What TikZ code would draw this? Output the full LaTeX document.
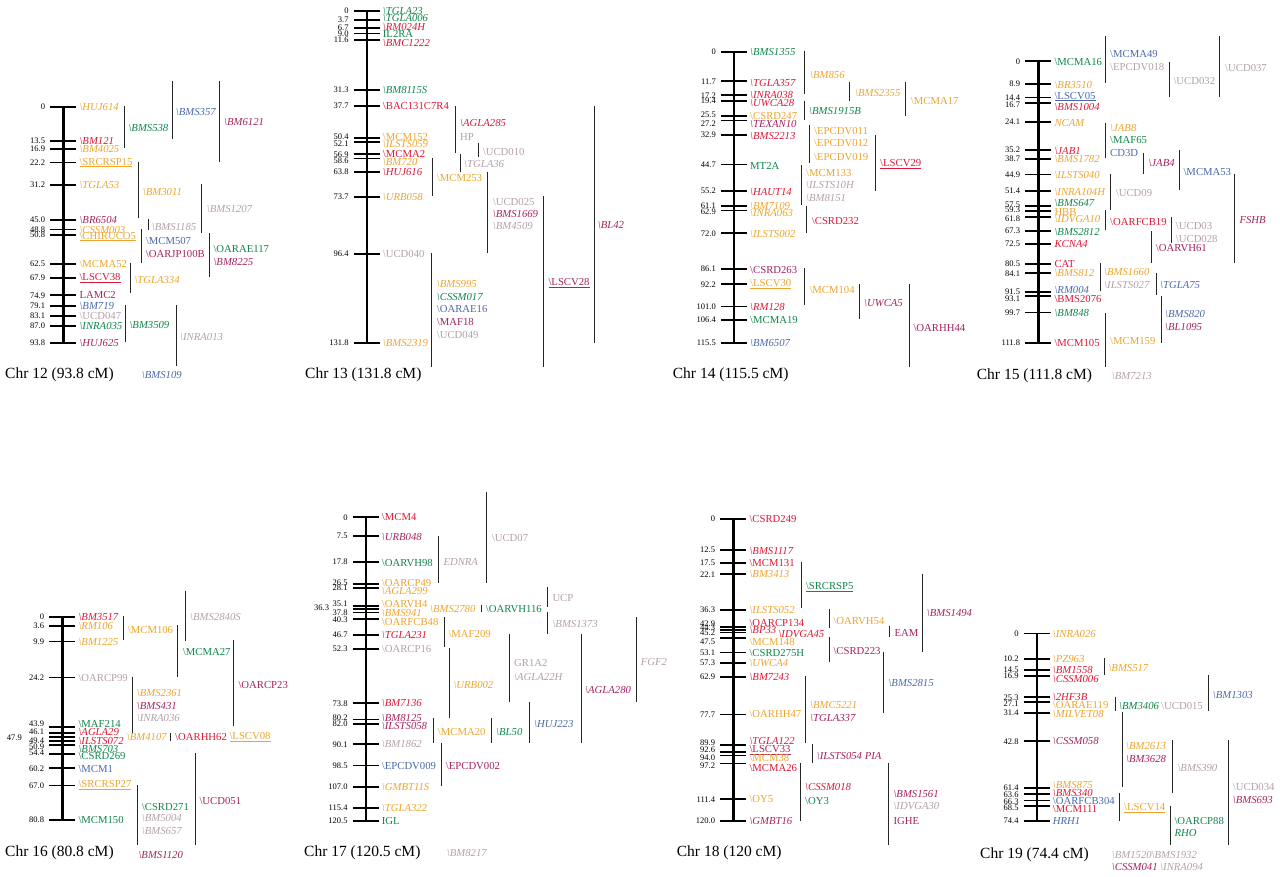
\documentclass[tikz,border=0pt]{standalone}
\usepackage{fontspec}
\setmainfont{Liberation Serif}
\definecolor{mkorange}{RGB}{238,165,45}
\definecolor{mkred}{RGB}{220,25,55}
\definecolor{mkgreen}{RGB}{15,135,75}
\definecolor{mkblue}{RGB}{75,105,170}
\definecolor{mkpurple}{RGB}{165,35,95}
\definecolor{mkgray}{RGB}{180,160,170}
\newcommand\bsl{\textbackslash}
\newcommand\lbl{\fontsize{10.7}{12}\selectfont}
% one chromosome: name, axis x, y of 0 cM, length, list p/dn/dl/dx/style/text
\newcommand\chrom[5]{%
  \draw[chrline] (#2,#3) -- (#2,{#3+2.52*#4});
  \foreach \p/\dn/\dl/\dx/\st/\t [count=\i] in {#5}{
    \draw[cmtick] ({#2-13},{#3+2.52*\p}) -- ({#2+13},{#3+2.52*\p});
    \node[cmnum] (#1n\i) at ({#2-18},{#3+2.52*\p+\dn}) {\p};
    \node[lab,\st] (#1m\i) at ({#2+\dx},{#3+2.52*\p+\dl}) {\t};
  }}

\begin{document}
\begin{tikzpicture}[
  x=1pt, y=-1pt,
  chrline/.style={line width=2.4pt},
  cmtick/.style={line width=1.8pt},
  ivbar/.style={line width=0.9pt, black!85},
  cmnum/.style={anchor=east, inner sep=0pt, font=\fontsize{8.5}{9}\selectfont},
  lab/.style={anchor=west, inner sep=0pt, font=\lbl},
  chrtitle/.style={anchor=west, inner sep=0pt, font=\fontsize{15.5}{17}\selectfont},
  OrI/.style={text=mkorange, font=\lbl\itshape}, OrU/.style={text=mkorange},
  RdI/.style={text=mkred, font=\lbl\itshape}, RdU/.style={text=mkred},
  GnI/.style={text=mkgreen, font=\lbl\itshape}, GnU/.style={text=mkgreen},
  BlI/.style={text=mkblue, font=\lbl\itshape}, BlU/.style={text=mkblue},
  PuI/.style={text=mkpurple, font=\lbl\itshape}, PuU/.style={text=mkpurple},
  GyI/.style={text=mkgray, font=\lbl\itshape}, GyU/.style={text=mkgray}
]
  \path[use as bounding box, fill=white] (0,0) rectangle (1280,876);

  %% Chr 12
  \chrom{c12}{63.3}{106.6}{93.8}{
    0/0/0/16/OrI/{\bsl HUJ614}, 13.5/0/0/16/RdI/{\bsl BM121},
    16.9/0/0/16/OrI/{\bsl BM4025}, 22.2/0/0/16/OrU/{\underline{\bsl SRCRSP15}},
    31.2/0/0/16/OrI/{\bsl TGLA53}, 45.0/0/0/16/PuI/{\bsl BR6504},
    48.8/0/0/16/OrI/{\bsl CSSM003}, 50.8/0/2/16/OrU/{\underline{\bsl CHIRUCO5}},
    62.5/0/0/16/OrU/{\bsl MCMA52}, 67.9/0/0/16/RdU/{\underline{\bsl LSCV38}},
    74.9/0/0/16/PuU/{LAMC2}, 79.1/0/0/16/BlI/{\bsl BM719},
    83.1/0/0/16/GyU/{\bsl UCD047}, 87.0/0/0/16/GnI/{\bsl INRA035},
    93.8/0/0/16/PuI/{\bsl HUJ625}}
  \foreach \bx/\ya/\yb in {124/106/148.3, 172/80.7/139.3, 219.3/80.7/161.7,
    138.7/161.7/218.3, 201.3/184.3/233.3, 148.3/219/230, 141.3/229/262.7,
    209.3/233.3/276.7, 130.7/262.7/293.3, 125.7/305/341.7, 176/305/366}
    \draw[ivbar] (\bx,\ya) -- (\bx,\yb);
  \node[lab,GnI] (bms538) at (128.3,128.3) {\bsl BMS538};
  \node[lab,BlI] (bms357) at (175.7,111.7) {\bsl BMS357};
  \node[lab,PuI] (bm6121) at (224,122.3) {\bsl BM6121};
  \node[lab,OrI] (bm3011) at (142.7,191.7) {\bsl BM3011};
  \node[lab,GyI] (bms1207) at (206.7,209.3) {\bsl BMS1207};
  \node[lab,GyI] (bms1185) at (151.7,226.7) {\bsl BMS1185};
  \node[lab,BlU] (mcm507) at (145.7,241) {\bsl MCM507};
  \node[lab,PuU] (oarjp100b) at (145.7,254) {\bsl OARJP100B};
  \node[lab,GnU] (oarae117) at (213.3,249) {\bsl OARAE117};
  \node[lab,PuI] (bm8225) at (213.3,261.7) {\bsl BM8225};
  \node[lab,OrI] (tgla334) at (134.3,280) {\bsl TGLA334};
  \node[lab,GnI] (bm3509) at (129.3,325) {\bsl BM3509};
  \node[lab,GyI] (inra013) at (180,336.7) {\bsl INRA013};
  \node[lab,BlI] (bms109) at (141.7,375) {\bsl BMS109};
  \node[chrtitle] (t12) at (5,375) {Chr 12 (93.8 cM)};

  %% Chr 13
  \chrom{c13}{366.7}{10.9}{131.8}{
    0/0/0/16/GnI/{\bsl TGLA23}, 3.7/0/-2/16/GnI/{\bsl TGLA006},
    6.7/0/-1/16/RdI/{\bsl RM024H}, 9.0/0/0.7/16/GnU/{IL2RA},
    11.6/0/2.6/16/RdI/{\bsl BMC1222}, 31.3/0/0/16/GnI/{\bsl BM8115S},
    37.7/0/0/16/RdU/{\bsl BAC131C7R4}, 50.4/-1.3/-1.3/16/OrU/{\bsl MCM152},
    52.1/1.8/2/16/OrI/{\bsl ILSTS059}, 56.9/0/0/16/RdU/{\bsl MCMA2},
    58.6/2/3.7/16/OrI/{\bsl BM720}, 63.8/0/0/16/RdI/{\bsl HUJ616},
    73.7/0/0/16/OrI/{\bsl URB058}, 96.4/0/0/16/GyU/{\bsl UCD040},
    131.8/0/0/16/OrI/{\bsl BMS2319}}
  \foreach \bx/\ya/\yb in {455/106/153.3, 478.3/142.7/157.3, 460.3/154/171.7,
    432.3/158.3/196, 487.7/171.7/252.7, 543.3/196/366.7, 594.3/106/342.7,
    431.7/253.3/366.7}
    \draw[ivbar] (\bx,\ya) -- (\bx,\yb);
  \node[lab,RdI] (agla285) at (460,123.3) {\bsl AGLA285};
  \node[lab,GyU] (hp) at (460,136.7) {HP};
  \node[lab,GyU] (ucd010) at (482.7,151.7) {\bsl UCD010};
  \node[lab,GyI] (tgla36) at (464,164) {\bsl TGLA36};
  \node[lab,OrU] (mcm253) at (436.7,178.3) {\bsl MCM253};
  \node[lab,GyU] (ucd025) at (492.7,201.7) {\bsl UCD025};
  \node[lab,PuI] (bms1669) at (492.7,214) {\bsl BMS1669};
  \node[lab,GyI] (bm4509) at (492.7,226) {\bsl BM4509};
  \node[lab,PuU] (lscv28) at (548.3,283.3) {\underline{\bsl LSCV28}};
  \node[lab,PuI] (bl42) at (597.7,225) {\bsl BL42};
  \node[lab,OrI] (bms995) at (436.7,284) {\bsl BMS995};
  \node[lab,GnI] (cssm017) at (436.7,296.7) {\bsl CSSM017};
  \node[lab,BlU] (oarae16) at (436.7,309.3) {\bsl OARAE16};
  \node[lab,PuU] (maf18) at (436.7,322) {\bsl MAF18};
  \node[lab,GyU] (ucd049) at (436.7,334.7) {\bsl UCD049};
  \node[chrtitle] (t13) at (305,375) {Chr 13 (131.8 cM)};

  %% Chr 14
  \chrom{c14}{734}{51.9}{115.5}{
    0/0/0/16/GnI/{\bsl BMS1355}, 11.7/0/1.3/16/RdI/{\bsl TGLA357},
    17.2/0/0/16/RdI/{\bsl INRA038}, 19.4/0/2/16/RdI/{\bsl UWCA28},
    25.5/-1/0/16/OrU/{\bsl CSRD247}, 27.2/3.6/3.6/16/PuI/{\bsl TEXAN10},
    32.9/0/1.2/16/RdI/{\bsl BMS2213}, 44.7/0/1.5/16/GnU/{MT2A},
    55.2/0/1.3/16/RdI/{\bsl HAUT14}, 61.1/0/0/16/OrI/{\bsl BM7109},
    62.9/1.3/3/16/OrI/{\bsl INRA063}, 72.0/0/0.7/16/OrI/{\bsl ILSTS002},
    86.1/0/1/16/PuU/{\bsl CSRD263}, 92.2/0/0/16/OrU/{\underline{\bsl LSCV30}},
    101.0/0/1/16/RdI/{\bsl RM128}, 106.4/0/0/16/GnU/{\bsl MCMA19},
    115.5/0/0/16/BlI/{\bsl BM6507}}
  \foreach \bx/\ya/\yb in {804.3/50.7/94, 849.3/81.7/100.7, 905.7/81.7/116,
    804.3/100.7/120, 809.3/125/163.3, 875.3/135/190.7, 801.7/165/205,
    806.7/205.7/232.7, 804/268.3/305, 859.3/284/319.3, 909/284/367.3}
    \draw[ivbar] (\bx,\ya) -- (\bx,\yb);
  \node[lab,OrI] (bm856) at (810,75) {\bsl BM856};
  \node[lab,OrI] (bms2355) at (855,92.7) {\bsl BMS2355};
  \node[lab,OrU] (mcma17) at (910.7,100.7) {\bsl MCMA17};
  \node[lab,GnI] (bms1915b) at (809,111.3) {\bsl BMS1915B};
  \node[lab,OrU] (epcdv011) at (814,130.7) {\bsl EPCDV011};
  \node[lab,OrU] (epcdv012) at (814,143.3) {\bsl EPCDV012};
  \node[lab,OrU] (epcdv019) at (814,156.7) {\bsl EPCDV019};
  \node[lab,RdU] (lscv29) at (880,164.3) {\underline{\bsl LSCV29}};
  \node[lab,OrU] (mcm133) at (806,172.7) {\bsl MCM133};
  \node[lab,GyI] (ilsts10h) at (806,185.3) {\bsl ILSTS10H};
  \node[lab,GyI] (bm8151) at (806,198.3) {\bsl BM8151};
  \node[lab,RdU] (csrd232) at (811.7,220.7) {\bsl CSRD232};
  \node[lab,OrU] (mcm104) at (809.3,290) {\bsl MCM104};
  \node[lab,PuI] (uwca5) at (864,302.7) {\bsl UWCA5};
  \node[lab,PuU] (oarhh44) at (913.3,328.3) {\bsl OARHH44};
  \node[chrtitle] (t14) at (672.7,375) {Chr 14 (115.5 cM)};

  %% Chr 15
  \chrom{c15}{1038.3}{61.3}{111.8}{
    0/0/1/16/GnU/{\bsl MCMA16}, 8.9/0/1.3/16/OrI/{\bsl BR3510},
    14.4/0/-1/16/BlU/{\underline{\bsl LSCV05}}, 16.7/1.6/4/16/RdI/{\bsl BMS1004},
    24.1/0/1.3/16/OrI/{NCAM}, 35.2/0/0.7/16/RdI/{\bsl JAB1},
    38.7/0/0.5/16/OrI/{\bsl BMS1782}, 44.9/0/0.6/16/OrI/{\bsl ILSTS040},
    51.4/0/0.9/16/OrI/{\bsl INRA104H}, 57.5/-1.5/-3/16/GnI/{\bsl BMS647},
    59.3/-1/1/16/OrU/{HBB}, 61.8/2/2.3/16/OrI/{\bsl IDVGA10},
    67.3/0/0.8/16/GnI/{\bsl BMS2812}, 72.5/0/0.3/16/RdI/{KCNA4},
    80.5/0/0/16/RdU/{CAT}, 84.1/0/0/16/OrI/{\bsl BMS812},
    91.5/0/-1.9/16/BlI/{\bsl RM004}, 93.1/2.4/3/16/RdU/{\bsl BMS2076},
    99.7/0/0.8/16/GnI/{\bsl BM848}, 111.8/0/0/16/RdU/{\bsl MCM105}}
  \foreach \bx/\ya/\yb in {1105.7/36/82.7, 1169.3/61.7/96.7, 1219.7/36/96.7,
    1105.7/122.7/157.7, 1143.7/153.3/174, 1179/150/190, 1110.7/174/210,
    1234.3/174/263.3, 1105.7/210/230, 1171.7/216.7/243.3, 1151/230.7/263.3,
    1100/263.3/290.7, 1156/272.7/295, 1161/296/342.7, 1105.7/312.7/366.7}
    \draw[ivbar] (\bx,\ya) -- (\bx,\yb);
  \node[lab,BlU] (mcma49) at (1110,54.3) {\bsl MCMA49};
  \node[lab,GyU] (epcdv018) at (1110,67.3) {\bsl EPCDV018};
  \node[lab,GyU] (ucd032) at (1173.3,80.7) {\bsl UCD032};
  \node[lab,GyU] (ucd037) at (1225,67.7) {\bsl UCD037};
  \node[lab,OrI] (jab8) at (1110,127.7) {\bsl JAB8};
  \node[lab,GnU] (maf65) at (1110,140) {\bsl MAF65};
  \node[lab,BlU] (cd3d) at (1110,153.3) {CD3D};
  \node[lab,PuI] (jab4) at (1148.3,163.3) {\bsl JAB4};
  \node[lab,BlU] (mcma53) at (1183.3,171.7) {\bsl MCMA53};
  \node[lab,GyU] (ucd09) at (1115.7,193.3) {\bsl UCD09};
  \node[lab,PuI] (fshb) at (1239.3,220) {FSHB};
  \node[lab,RdU] (oarfcb19) at (1110,222.3) {\bsl OARFCB19};
  \node[lab,GyU] (ucd03) at (1175.7,226) {\bsl UCD03};
  \node[lab,GyU] (ucd028) at (1175.7,239.3) {\bsl UCD028};
  \node[lab,PuU] (oarvh61) at (1155.7,248.3) {\bsl OARVH61};
  \node[lab,OrI] (bms1660) at (1104,272.3) {\bsl BMS1660};
  \node[lab,GyI] (ilsts027) at (1104,285) {\bsl ILSTS027};
  \node[lab,BlI] (tgla75) at (1160,285) {\bsl TGLA75};
  \node[lab,BlI] (bms820) at (1165,314) {\bsl BMS820};
  \node[lab,PuI] (bl1095) at (1165,326.7) {\bsl BL1095};
  \node[lab,OrU] (mcm159) at (1110,341) {\bsl MCM159};
  \node[lab,GyI] (bm7213) at (1111.7,375.7) {\bsl BM7213};
  \node[chrtitle] (t15) at (976.7,375.7) {Chr 15 (111.8 cM)};

  %% Chr 16
  \chrom{c16}{62.3}{616.6}{80.8}{
    0/0/0/16/RdI/{\bsl BM3517}, 3.6/0/0/16/OrI/{\bsl RM106},
    9.9/0/0/16/OrI/{\bsl BM1225}, 24.2/0/0/16/GyU/{\bsl OARCP99},
    43.9/-3/-3/16/GnU/{\bsl MAF214}, 46.1/-1/-1/16/RdI/{\bsl AGLA29},
    49.4/0/0/16/RdI/{\bsl ILSTS072}, 50.9/2/4/16/GnI/{\bsl BMS703},
    54.4/-1/2/16/GnU/{\bsl CSRD269}, 60.2/0/1/16/BlU/{\bsl MCM1},
    67.0/0/0/16/OrU/{\underline{\bsl SRCRSP27}}, 80.8/0/0/16/GnU/{\bsl MCM150}}
  \draw[cmtick] (49.3,{616.6+2.52*47.9}) -- (75.3,{616.6+2.52*47.9});
  \node[cmnum] (c16n479) at (22,{616.6+2.52*47.9}) {47.9};
  \node[lab,OrI] (bm4107) at (126.7,737.3) {\bsl BM4107};
  \foreach \bx/\ya/\yb in {123.3/616/640, 185.3/590.7/640.7, 177.7/625/676.7,
    233.3/640/726, 132.7/676.7/733.3, 170.7/732.7/740.7, 195/752.7/845,
    137.3/785/845}
    \draw[ivbar] (\bx,\ya) -- (\bx,\yb);
  \node[lab,OrU] (mcm106) at (127.7,630) {\bsl MCM106};
  \node[lab,GyI] (bms2840s) at (190,617.3) {\bsl BMS2840S};
  \node[lab,GnU] (mcma27) at (182.7,651.7) {\bsl MCMA27};
  \node[lab,PuU] (oarcp23) at (238.3,685) {\bsl OARCP23};
  \node[lab,OrI] (bms2361) at (136.7,693.3) {\bsl BMS2361};
  \node[lab,PuI] (bms431) at (136.7,706) {\bsl BMS431};
  \node[lab,GyI] (inra036) at (136.7,718.3) {\bsl INRA036};
  \node[lab,RdU] (oarhh62) at (175,736.7) {\bsl OARHH62};
  \node[lab,OrU] (lscv08) at (229.3,736.7) {\underline{\bsl LSCV08}};
  \node[lab,PuU] (ucd051) at (199.3,800.7) {\bsl UCD051};
  \node[lab,GnU] (csrd271) at (141.7,806.7) {\bsl CSRD271};
  \node[lab,GyI] (bm5004) at (141.7,818.3) {\bsl BM5004};
  \node[lab,GyI] (bms657) at (141.7,830.7) {\bsl BMS657};
  \node[lab,PuI] (bms1120) at (138.3,855) {\bsl BMS1120};
  \node[chrtitle] (t16) at (5,853) {Chr 16 (80.8 cM)};

  %% Chr 17
  \chrom{c17}{365.7}{517.3}{120.5}{
    0/0/0/16/RdU/{\bsl MCM4}, 7.5/0/1/16/PuI/{\bsl URB048},
    17.8/0/0.5/16/GnU/{\bsl OARVH98}, 26.5/-1.4/-1.4/16/OrU/{\bsl OARCP49},
    28.1/0/2.6/16/OrI/{\bsl AGLA299}, 35.1/-1.8/-1.8/16/OrU/{\bsl OARVH4},
    37.8/0/0/16/OrI/{\bsl BMS941}, 40.3/1/2.8/16/OrU/{\bsl OARFCB48},
    46.7/0/0/16/RdI/{\bsl TGLA231}, 52.3/0/0/16/GyU/{\bsl OARCP16},
    73.8/0/0/16/RdI/{\bsl BM7136}, 80.2/-1.7/-1.7/16/PuI/{\bsl BM8125},
    82.0/0/1.7/16/PuI/{\bsl ILSTS058}, 90.1/0/0/16/GyI/{\bsl BM1862},
    98.5/0/0/16/BlU/{\bsl EPCDV009}, 107.0/0/0/16/OrI/{\bsl GMBT11S},
    115.4/0/0/16/OrI/{\bsl TGLA322}, 120.5/0/0/16/GnU/{IGL}}
  \draw[cmtick] (352.7,{517.3+2.52*36.3}) -- (378.7,{517.3+2.52*36.3});
  \node[cmnum] (c17n363) at (329.3,607.7) {36.3};
  \node[lab,OrI] (bms2780) at (430,609.3) {\bsl BMS2780};
  \foreach \bx/\ya/\yb in {486.7/491.7/582.7, 438.3/536/582.7, 481.7/605/611.7,
    547.7/587.3/607.3, 547.7/611.7/634, 444/617.3/647.3, 636/617.3/701.7,
    449/648.3/717.7, 509.7/634/702.3, 581/634/742.7, 433.3/718.3/742.7,
    491.7/718.3/742.7, 529.7/702.3/742.7, 441/743.3/786}
    \draw[ivbar] (\bx,\ya) -- (\bx,\yb);
  \node[lab,GyU] (ucd07) at (491.7,538.3) {\bsl UCD07};
  \node[lab,GyI] (ednra) at (443.3,561.7) {EDNRA};
  \node[lab,GnU] (oarvh116) at (485.7,609.3) {\bsl OARVH116};
  \node[lab,GyU] (ucp) at (552.3,598.3) {UCP};
  \node[lab,GyI] (bms1373) at (552.3,624) {\bsl BMS1373};
  \node[lab,OrU] (maf209) at (448.3,634) {\bsl MAF209};
  \node[lab,GyI] (fgf2) at (640.7,661.7) {FGF2};
  \node[lab,OrI] (urb002) at (453.3,685) {\bsl URB002};
  \node[lab,GyU] (gr1a2) at (514,663.3) {GR1A2};
  \node[lab,GyI] (agla22h) at (514,676.7) {\bsl AGLA22H};
  \node[lab,PuI] (agla280) at (585,690) {\bsl AGLA280};
  \node[lab,OrU] (mcma20) at (437.7,731.7) {\bsl MCMA20};
  \node[lab,GnI] (bl50) at (496,731.7) {\bsl BL50};
  \node[lab,BlI] (huj223) at (534,724) {\bsl HUJ223};
  \node[lab,PuU] (epcdv002) at (445.7,766) {\bsl EPCDV002};
  \node[lab,GyI] (bm8217) at (446.7,853.3) {\bsl BM8217};
  \node[chrtitle] (t17) at (304,853) {Chr 17 (120.5 cM)};

  %% Chr 18
  \chrom{c18}{733.3}{518.6}{120}{
    0/0/0/16/RdU/{\bsl CSRD249}, 12.5/0/0.5/16/RdI/{\bsl BMS1117},
    17.5/0/0/16/RdU/{\bsl MCM131}, 22.1/0/0/16/OrI/{\bsl BM3413},
    36.3/0/0/16/OrI/{\bsl ILSTS052}, 42.9/-3.4/-3.4/16/RdU/{\bsl OARCP134},
    44.3/-2.5/0/16/RdI/{\bsl BP33}, 45.2/0/1.5/45/RdI/{\bsl IDVGA45},
    47.5/3.4/3.4/16/OrU/{\bsl MCM148}, 53.1/0/0.3/16/GnU/{\bsl CSRD275H},
    57.3/0/0.3/16/OrI/{\bsl UWCA4}, 62.9/0/0/16/RdI/{\bsl BM7243},
    77.7/0/0/16/OrU/{\bsl OARHH47}, 89.9/-2.4/-4.4/16/RdI/{\bsl TGLA122},
    92.6/-2.6/-1.9/16/PuU/{\underline{\bsl LSCV33}}, 94.0/1.8/3/16/OrU/{\bsl MCM38},
    97.2/2.5/4.2/16/RdU/{\bsl MCMA26}, 111.4/0/0/16/OrU/{\bsl OY5},
    120.0/0/0/16/PuI/{\bsl GMBT16}}
  \foreach \bx/\ya/\yb in {801/561.7/608.3, 829/609.3/628.3, 889.3/626/637.3,
    922.7/574/651.7, 829/637.3/661.7, 883.7/651.7/713.3, 805.7/676/743.3,
    812.7/744.3/762.7, 800.3/763.3/820.7, 888.3/763.3/845}
    \draw[ivbar] (\bx,\ya) -- (\bx,\yb);
  \node[lab,GnU] (srcrsp5) at (805.7,587.3) {\underline{\bsl SRCRSP5}};
  \node[lab,OrU] (oarvh54) at (833.3,620.7) {\bsl OARVH54};
  \node[lab,PuU] (eam) at (894.3,632.7) {EAM};
  \node[lab,PuI] (bms1494) at (926.7,612.7) {\bsl BMS1494};
  \node[lab,PuU] (csrd223) at (833.3,650.7) {\bsl CSRD223};
  \node[lab,BlI] (bms2815) at (888.3,683.3) {\bsl BMS2815};
  \node[lab,OrI] (bmc5221) at (810,705) {\bsl BMC5221};
  \node[lab,PuI] (tgla337) at (810,718.3) {\bsl TGLA337};
  \node[lab,PuI] (ilsts054) at (816.7,755.7) {\bsl ILSTS054 PIA};
  \node[lab,RdI] (cssm018) at (805,787.3) {\bsl CSSM018};
  \node[lab,GnU] (oy3) at (805,800.7) {\bsl OY3};
  \node[lab,PuI] (bms1561) at (893.3,794) {\bsl BMS1561};
  \node[lab,GyI] (idvga30) at (893.3,806) {\bsl IDVGA30};
  \node[lab,PuU] (ighe) at (893.3,820.7) {IGHE};
  \node[chrtitle] (t18) at (676.7,853) {Chr 18 (120 cM)};

  %% Chr 19
  \chrom{c19}{1036.7}{633.5}{74.4}{
    0/0/0/16/OrI/{\bsl INRA026}, 10.2/0/0/16/OrI/{\bsl PZ963},
    14.5/0/0/16/RdI/{\bsl BM1558}, 16.9/0/3/16/RdI/{\bsl CSSM006},
    25.3/0/0/16/RdI/{\bsl 2HF3B}, 27.1/1.5/3/16/OrU/{\bsl OARAE119},
    31.4/0/1.7/16/OrI/{\bsl MILVET08}, 42.8/0/0/16/PuI/{\bsl CSSM058},
    61.4/0/-3/16/OrI/{\bsl BMS875}, 63.6/1/-1/16/RdI/{\bsl BMS340},
    66.3/1/0.5/16/BlU/{\bsl OARFCB304}, 68.5/2/3/16/RdU/{\bsl MCM111},
    74.4/0/0/16/BlI/{HRH1}}
  \foreach \bx/\ya/\yb in {1104.3/658.3/675, 1115/696.7/711, 1208.3/675/711,
    1122.3/712.3/787.3, 1172.7/740/793.3, 1228.3/740/845, 1119.3/793.3/820.7,
    1170/806/845}
    \draw[ivbar] (\bx,\ya) -- (\bx,\yb);
  \node[lab,OrI] (bms517) at (1108.3,668.3) {\bsl BMS517};
  \node[lab,GnI] (bm3406) at (1119,706) {\bsl BM3406};
  \node[lab,GyU] (ucd015) at (1161,706) {\bsl UCD015};
  \node[lab,BlI] (bm1303) at (1212.7,695) {\bsl BM1303};
  \node[lab,OrI] (bm2613) at (1126,745.7) {\bsl BM2613};
  \node[lab,PuI] (bm3628) at (1126,759) {\bsl BM3628};
  \node[lab,GyI] (bms390) at (1177.3,768.3) {\bsl BMS390};
  \node[lab,GyU] (ucd034) at (1232.7,786.7) {\bsl UCD034};
  \node[lab,PuI] (bms693) at (1232.7,800) {\bsl BMS693};
  \node[lab,OrU] (lscv14) at (1124,808.3) {\underline{\bsl LSCV14}};
  \node[lab,GnU] (oarcp88) at (1174.3,820.7) {\bsl OARCP88};
  \node[lab,GnI] (rho) at (1174.3,833.3) {RHO};
  \node[lab,GyI] (bm1520) at (1111.7,855) {\bsl BM1520\bsl BMS1932};
  \node[lab,PuI] (cssm041) at (1111.7,866.7) {\bsl CSSM041};
  \node[lab,GyI] (inra094) at (1160,866.7) {\bsl INRA094};
  \node[chrtitle] (t19) at (980,855) {Chr 19 (74.4 cM)};
\end{tikzpicture}
\end{document}
